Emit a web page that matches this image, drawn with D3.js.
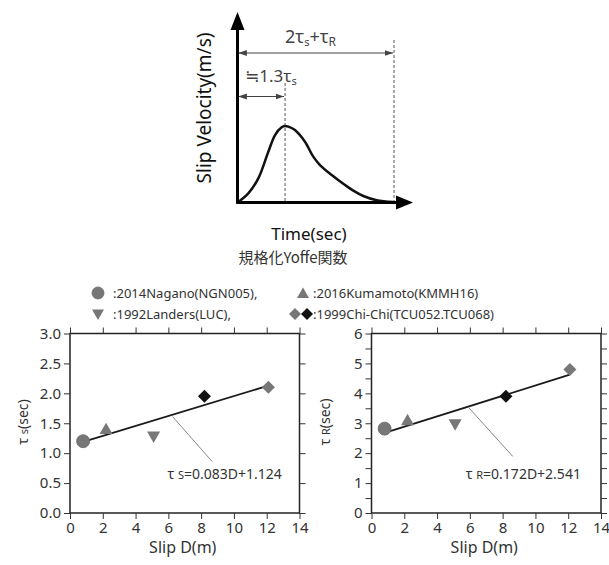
<!DOCTYPE html>
<html><head><meta charset="utf-8">
<script src="https://cdn.jsdelivr.net/npm/d3@7"></script>
<style>
body{margin:0;background:#fff;}
svg text{font-family:"Noto Sans","Open Sans",sans-serif;}
</style></head>
<body><svg id="c" width="609" height="565"></svg>
<script>
// ---- data ----
const events = ["2014Nagano(NGN005)","2016Kumamoto(KMMH16)","1992Landers(LUC)","1999Chi-Chi(TCU052)","1999Chi-Chi(TCU068)"];
const symbols = ["circle","triangleUp","triangleDown","diamondGray","diamondBlack"];
const slipD = [0.8, 2.2, 5.1, 12.1, 8.2];
const tauS  = [1.2, 1.4, 1.28, 2.1, 1.95];
const tauR  = [2.82, 3.1, 2.97, 4.8, 3.9];
const fitS = [0.083, 1.124];
const fitR = [0.172, 2.541];
const xTicks = [0,2,4,6,8,10,12,14];
const ySTicks = [0,0.5,1.0,1.5,2.0,2.5,3.0];
const yRTicks = [0,1,2,3,4,5,6];
const yRMinor = [0,0.5,1,1.5,2,2.5,3,3.5,4,4.5,5,5.5,6];
// normalized Yoffe function sketch (time %, velocity %)
const yoffeT = [0, 6.9, 13.3, 19.7, 24.0, 28.2, 30.4, 32.5, 36.7, 43.1, 48.4, 52.7, 60.2, 68.7, 74, 80.4, 88.9, 99.6];
const yoffeV = [0, 12.0, 31.6, 66.4, 88.2, 98.3, 100, 99.1, 94.8, 79.5, 59.9, 49, 36, 22.9, 15.5, 8.5, 3, 0.5];
const peakT = 30.4, endT = 100;

const svg = d3.select("#c");
const gray = "#777", black = "#111", txt = "#333";

function marker(g, type, x, y, s) {
  let path;
  if (type === "circle") {
    g.append("circle").attr("cx", x).attr("cy", y).attr("r", s).attr("fill", gray).attr("stroke", "#666").attr("stroke-width", 0.8);
    return;
  }
  if (type === "triangleUp") path = `M${x},${y-s}L${x+s},${y+s*0.75}L${x-s},${y+s*0.75}Z`;
  if (type === "triangleDown") path = `M${x},${y+s}L${x+s},${y-s*0.75}L${x-s},${y-s*0.75}Z`;
  if (type.startsWith("diamond")) path = `M${x},${y-s}L${x+s},${y}L${x},${y+s}L${x-s},${y}Z`;
  g.append("path").attr("d", path).attr("fill", type === "diamondBlack" ? black : gray);
}

// ---- top diagram ----
const tx = d3.scaleLinear().domain([0, 100]).range([237.5, 394]);
const ty = d3.scaleLinear().domain([0, 100]).range([202.5, 126]);
const diag = svg.append("g");
const defs = svg.append("defs");
defs.append("marker").attr("id","ah").attr("viewBox","0 0 10 10").attr("refX",10).attr("refY",5)
  .attr("markerWidth",7).attr("markerHeight",7).attr("orient","auto-start-reverse")
  .append("path").attr("d","M0,1.5L10,5L0,8.5Z").attr("fill","#444");

// dashed lines
diag.append("line").attr("x1",tx(peakT)).attr("x2",tx(peakT)).attr("y1",83).attr("y2",ty(0))
  .attr("stroke","#555").attr("stroke-dasharray","3,2").attr("stroke-width",1);
diag.append("line").attr("x1",tx(endT)).attr("x2",tx(endT)).attr("y1",40).attr("y2",ty(0))
  .attr("stroke","#555").attr("stroke-dasharray","3,2").attr("stroke-width",1);
// dimension arrows
diag.append("line").attr("x1",tx(0)+1).attr("x2",tx(endT)-1).attr("y1",53).attr("y2",53)
  .attr("stroke","#444").attr("stroke-width",1.2).attr("marker-start","url(#ah)").attr("marker-end","url(#ah)");
diag.append("line").attr("x1",tx(0)+1).attr("x2",tx(peakT)-1).attr("y1",96.5).attr("y2",96.5)
  .attr("stroke","#444").attr("stroke-width",1.2).attr("marker-start","url(#ah)").attr("marker-end","url(#ah)");
// labels
const t1 = diag.append("text").attr("x",285).attr("y",43).attr("fill","#444").attr("font-size",18);
t1.append("tspan").text("2τ");
t1.append("tspan").text("s").attr("font-size",11).attr("dy",3);
t1.append("tspan").text("+τ").attr("dy",-3);
t1.append("tspan").text("R").attr("font-size",12).attr("dy",3);
const t2 = diag.append("text").attr("x",245).attr("y",82).attr("fill","#444").attr("font-size",17);
t2.append("tspan").text("≒").style("font-family","'DejaVu Sans',sans-serif").attr("font-size",17);
t2.append("tspan").text("1.3τ");
t2.append("tspan").text("s").attr("font-size",11).attr("dy",3);
// curve
diag.append("path")
  .attr("d", d3.line().x((d,i)=>tx(yoffeT[i])).y((d,i)=>ty(yoffeV[i])).curve(d3.curveCatmullRom)(yoffeT))
  .attr("fill","none").attr("stroke","#111").attr("stroke-width",2.5);
// axes with arrows
diag.append("line").attr("x1",tx(0)).attr("x2",tx(0)).attr("y1",ty(0)+1).attr("y2",28).attr("stroke","#000").attr("stroke-width",3);
diag.append("path").attr("d",`M${tx(0)},12L${tx(0)+7},30L${tx(0)-7},30Z`).attr("fill","#000");
diag.append("line").attr("x1",tx(0)-1).attr("x2",398).attr("y1",ty(0)).attr("y2",ty(0)).attr("stroke","#000").attr("stroke-width",3);
diag.append("path").attr("d",`M413,${ty(0)}L396,${ty(0)-7}L396,${ty(0)+7}Z`).attr("fill","#000");
diag.append("text").attr("transform","translate(211,108) rotate(-90)").attr("text-anchor","middle")
  .attr("font-size",19).attr("fill","#111").text("Slip Velocity(m/s)");
diag.append("text").attr("x",309).attr("y",240).attr("text-anchor","middle").attr("font-size",17).attr("fill","#111").text("Time(sec)");
diag.append("text").attr("x",293).attr("y",263).attr("text-anchor","middle").attr("font-size",15).attr("fill","#333")
  .style("font-family","'Noto Sans CJK JP',sans-serif").text("規格化Yoffe関数");

// ---- legend ----
const lg = svg.append("g").attr("font-size",13).attr("fill",txt);
marker(lg, "circle", 98, 293, 6);
lg.append("text").attr("x",113).attr("y",297.5).attr("fill",txt).text(":" + events[0] + ",");
marker(lg, "triangleUp", 303, 293.5, 6);
lg.append("text").attr("x",313).attr("y",297.5).attr("fill",txt).text(":" + events[1]);
marker(lg, "triangleDown", 98, 314, 6);
lg.append("text").attr("x",113).attr("y",318.5).attr("fill",txt).text(":" + events[2] + ",");
marker(lg, "diamondGray", 295, 314, 6);
marker(lg, "diamondBlack", 307, 314, 6);
lg.append("text").attr("x",313).attr("y",318.5).attr("fill",txt).text(":1999Chi-Chi(TCU052.TCU068)");

// ---- scatter panels ----
function panel(x0, x1, yMax, yTicks, yMinor, yVals, fit, yLabelMain, yLabelSub, fmt, eqText, leader, eqPos) {
  const x = d3.scaleLinear().domain([0, 14]).range([x0, x1]);
  const y = d3.scaleLinear().domain([0, yMax]).range([513, 333.5]);
  const g = svg.append("g");
  g.append("rect").attr("x", x0).attr("y", 333.5).attr("width", x1 - x0).attr("height", 513 - 333.5)
    .attr("fill", "none").attr("stroke", "#222").attr("stroke-width", 1.5);
  const ax = (a) => a.attr("font-size", 15).call(s => s.select(".domain").remove())
    .call(s => s.selectAll("line").attr("stroke", "#333")).call(s => s.selectAll("text").attr("fill", txt).style("font-family", "'Noto Sans',sans-serif"));
  g.append("g").attr("transform", `translate(0,513)`).call(d3.axisBottom(x).tickValues(xTicks).tickSize(6).tickPadding(3).tickFormat(d3.format("d"))).call(ax);
  g.append("g").attr("transform", `translate(0,333.5)`).call(d3.axisTop(x).tickValues(xTicks).tickSize(6).tickFormat("")).call(ax);
  g.append("g").attr("transform", `translate(${x0},0)`).call(d3.axisLeft(y).tickValues(yMinor).tickSize(6).tickPadding(3)
    .tickFormat(d => yTicks.includes(d) ? fmt(d) : "")).call(ax);
  g.append("g").attr("transform", `translate(${x1},0)`).call(d3.axisRight(y).tickValues(yMinor).tickSize(6).tickFormat("")).call(ax);
  // fit line
  const xs = d3.extent(slipD);
  g.append("line").attr("x1", x(xs[0])).attr("x2", x(xs[1]))
    .attr("y1", y(fit[0] * xs[0] + fit[1])).attr("y2", y(fit[0] * xs[1] + fit[1]))
    .attr("stroke", "#1a1a1a").attr("stroke-width", 1.8);
  // leader
  g.append("line").attr("x1", x(leader[0])).attr("y1", y(leader[1])).attr("x2", x(leader[2])).attr("y2", y(leader[3]))
    .attr("stroke", "#888").attr("stroke-width", 1);
  // markers
  slipD.forEach((d, i) => marker(g, symbols[i], x(d), y(yVals[i]), 6.5));
  // equation
  const et = g.append("text").attr("x", x(eqPos[0])).attr("y", y(eqPos[1])).attr("font-size", 14).attr("fill", txt);
  et.append("tspan").text("τ ");
  et.append("tspan").text(eqText[0]).attr("font-size", 11);
  et.append("tspan").text(eqText[1]);
  // axis labels
  g.append("text").attr("x", (x0 + x1) / 2 - 2).attr("y", 553).attr("text-anchor", "middle").attr("font-size", 16).attr("fill", txt).text("Slip D(m)");
  const yl = g.append("text").attr("transform", `translate(${x0 - 42},422) rotate(-90)`).attr("text-anchor", "middle").attr("font-size", 14).attr("fill", txt);
  yl.append("tspan").text("τ ");
  yl.append("tspan").text(yLabelSub).attr("font-size", 11);
  yl.append("tspan").text(yLabelMain);
}
panel(70, 299.5, 3, ySTicks, ySTicks, tauS, fitS, "(sec)", "s", d3.format(".1f"),
      ["S", "=0.083D+1.124"], [6.26, 1.61, 8.67, 0.86], [5.95, 0.57]);
panel(371.5, 601, 6, yRTicks, yRMinor, tauR, fitR, "(sec)", "R", d3.format("d"),
      ["R", "=0.172D+2.541"], [5.9, 3.54, 8.62, 1.89], [5.75, 1.14]);
</script></body></html>
